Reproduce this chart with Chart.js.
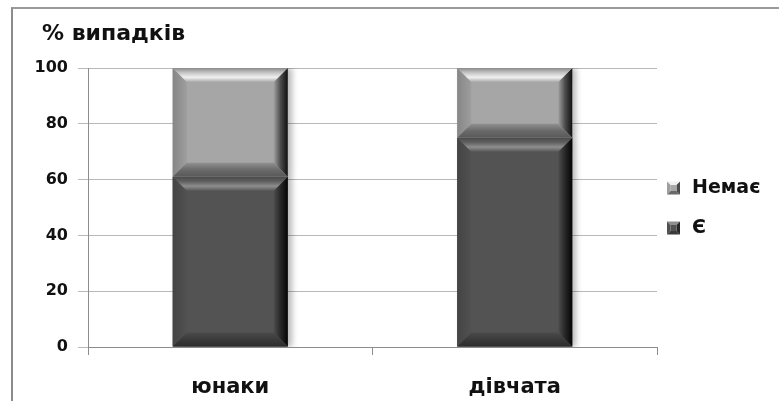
<!DOCTYPE html>
<html lang="uk">
<head>
<meta charset="utf-8">
<title>% випадків</title>
<script src="https://cdn.jsdelivr.net/npm/chart.js@4"></script>
<style>
    html, body { margin: 0; padding: 0; background: #fff; overflow: hidden; }
    .frame {
        position: absolute; left: 11px; top: 7px; width: 900px; height: 600px;
        border-left: 2px solid #8c8c8c; border-top: 2px solid #9a9a9a;
    }
    .chart-box { position: absolute; left: 0; top: 0; width: 779px; height: 401px; }
</style>
</head>
<body>
<div class="frame"></div>
<div class="chart-box"><canvas id="chart"></canvas></div>
<script>
// Дані
const categories = ['юнаки', 'дівчата'];
const seriesLabels = ['Є', 'Немає'];
const yesValues = [61, 75];
const noValues = [39, 25];
const yMax = 100;
const yStep = 20;
const chartTitle = '% випадків';

// Кольори граней для об'ємних стовпчиків
const bevelStyles = {
    'Є': {
        face: '#535353',
        top: ['#4a4a4a', '#606060', '#8e8e8e', '#585858'],
        left: ['#444444', '#515151'],
        right: ['#4e4e4e', '#262626', '#050505'],
        bottom: ['#4a4a4a', '#3a3a3a', '#2c2c2c']
    },
    'Немає': {
        face: '#a6a6a6',
        top: ['#8a8a8a', '#c4c4c4', '#f0f0f0', '#aaaaaa'],
        left: ['#868686', '#9e9e9e'],
        right: ['#a0a0a0', '#4a4a4a', '#111111'],
        bottom: ['#909090', '#6a6a6a', '#585858']
    }
};
const FONT = "'DejaVu Sans', sans-serif";

function poly(ctx, pts, fill) {
    ctx.beginPath();
    ctx.moveTo(pts[0][0], pts[0][1]);
    for (let i = 1; i < pts.length; i++) ctx.lineTo(pts[i][0], pts[i][1]);
    ctx.closePath();
    ctx.fillStyle = fill;
    ctx.fill();
}

function gradient(ctx, x0, y0, x1, y1, stops) {
    const g = ctx.createLinearGradient(x0, y0, x1, y1);
    stops.forEach((c, i) => g.addColorStop(i / (stops.length - 1), c));
    return g;
}

// Малюємо фаску поверх кожного стовпчика
function drawBevel(ctx, el, st) {
    const p = el.getProps(['x', 'y', 'base', 'width'], true);
    const L = p.x - p.width / 2, R = p.x + p.width / 2;
    const T = Math.min(p.y, p.base), B = Math.max(p.y, p.base);
    const d = Math.min(14, (B - T) / 2);

    ctx.fillStyle = st.face;
    ctx.fillRect(L, T, R - L, B - T);
    poly(ctx, [[L, T], [L + d, T + d], [L + d, B - d], [L, B]], gradient(ctx, L, 0, L + d, 0, st.left));
    poly(ctx, [[R, T], [R - d, T + d], [R - d, B - d], [R, B]], gradient(ctx, R - d, 0, R, 0, st.right));
    poly(ctx, [[L, B], [R, B], [R - d, B - d], [L + d, B - d]], gradient(ctx, 0, B - d, 0, B, st.bottom));
    poly(ctx, [[L, T], [R, T], [R - d, T + d], [L + d, T + d]], gradient(ctx, 0, T, 0, T + d, st.top));
}

function drawLegendIcon(ctx, x, y, s, st) {
    const c = s / 2, m = 3;
    poly(ctx, [[x, y], [x + s, y], [x + c + m, y + c - m], [x + c - m, y + c - m]], st.top[2]);
    poly(ctx, [[x, y + s], [x + s, y + s], [x + c + m, y + c + m], [x + c - m, y + c + m]], st.bottom[1]);
    poly(ctx, [[x, y], [x, y + s], [x + c - m, y + c + m], [x + c - m, y + c - m]], st.left[1]);
    poly(ctx, [[x + s, y], [x + s, y + s], [x + c + m, y + c + m], [x + c + m, y + c - m]], st.right[1]);
    ctx.fillStyle = st.face;
    ctx.fillRect(x + c - m, y + c - m, 2 * m, 2 * m);
}

const bevelPlugin = {
    id: 'bevel',
    beforeDatasetsDraw(chart) {
        const ctx = chart.ctx;
        ctx.save();
        ctx.shadowColor = 'rgba(0,0,0,0.28)';
        ctx.shadowBlur = 6;
        ctx.shadowOffsetX = 4;
    },
    afterDatasetsDraw(chart) {
        const ctx = chart.ctx;
        ctx.restore();
        chart.data.datasets.forEach((ds, i) => {
            const meta = chart.getDatasetMeta(i);
            meta.data.forEach(el => drawBevel(ctx, el, bevelStyles[ds.label]));
        });
    },
    afterDraw(chart) {
        const ctx = chart.ctx;
        const area = chart.chartArea;
        ctx.save();
        ctx.fillStyle = '#111';
        ctx.textBaseline = 'middle';

        // Заголовок над віссю
        ctx.font = 'bold 22px ' + FONT;
        ctx.fillText(chartTitle, area.left - 46, area.top - 34);

        // Легенда праворуч, у зворотному порядку
        const mid = (area.top + area.bottom) / 2;
        const items = chart.data.datasets.map(ds => ds.label).reverse();
        ctx.font = 'bold 19px ' + FONT;
        items.forEach((label, k) => {
            const yc = mid - 20 + k * 40;
            drawLegendIcon(ctx, area.right + 10, yc - 6, 13, bevelStyles[label]);
            ctx.fillStyle = '#111';
            ctx.fillText(label, area.right + 35, yc + 1);
        });
        ctx.restore();
    }
};

new Chart(document.getElementById('chart'), {
    type: 'bar',
    data: {
        labels: categories,
        datasets: [
            { label: seriesLabels[0], data: yesValues, backgroundColor: bevelStyles['Є'].face },
            { label: seriesLabels[1], data: noValues, backgroundColor: bevelStyles['Немає'].face }
        ]
    },
    options: {
        responsive: true,
        maintainAspectRatio: false,
        animation: false,
        layout: { padding: { left: 28, right: 122, top: 68, bottom: 0 } },
        datasets: { bar: { barPercentage: 0.404, categoryPercentage: 1 } },
        plugins: {
            legend: { display: false },
            tooltip: { enabled: false },
            title: { display: false }
        },
        scales: {
            x: {
                stacked: true,
                grid: { offset: true, drawOnChartArea: false, tickLength: 8, color: '#8c8c8c' },
                border: { color: '#8c8c8c' },
                ticks: { padding: 20, color: '#111', font: { family: FONT, size: 21, weight: 'bold' } },
                afterFit(scale) { scale.height = 54; }
            },
            y: {
                stacked: true,
                min: 0,
                max: yMax,
                grid: { color: '#b8b8b8', tickLength: 10 },
                border: { color: '#8c8c8c' },
                ticks: { stepSize: yStep, padding: 10, color: '#111', font: { family: FONT, size: 16, weight: 'bold' } },
                afterFit(scale) { scale.width = 60; }
            }
        }
    },
    plugins: [bevelPlugin]
});
</script>
</body>
</html>
